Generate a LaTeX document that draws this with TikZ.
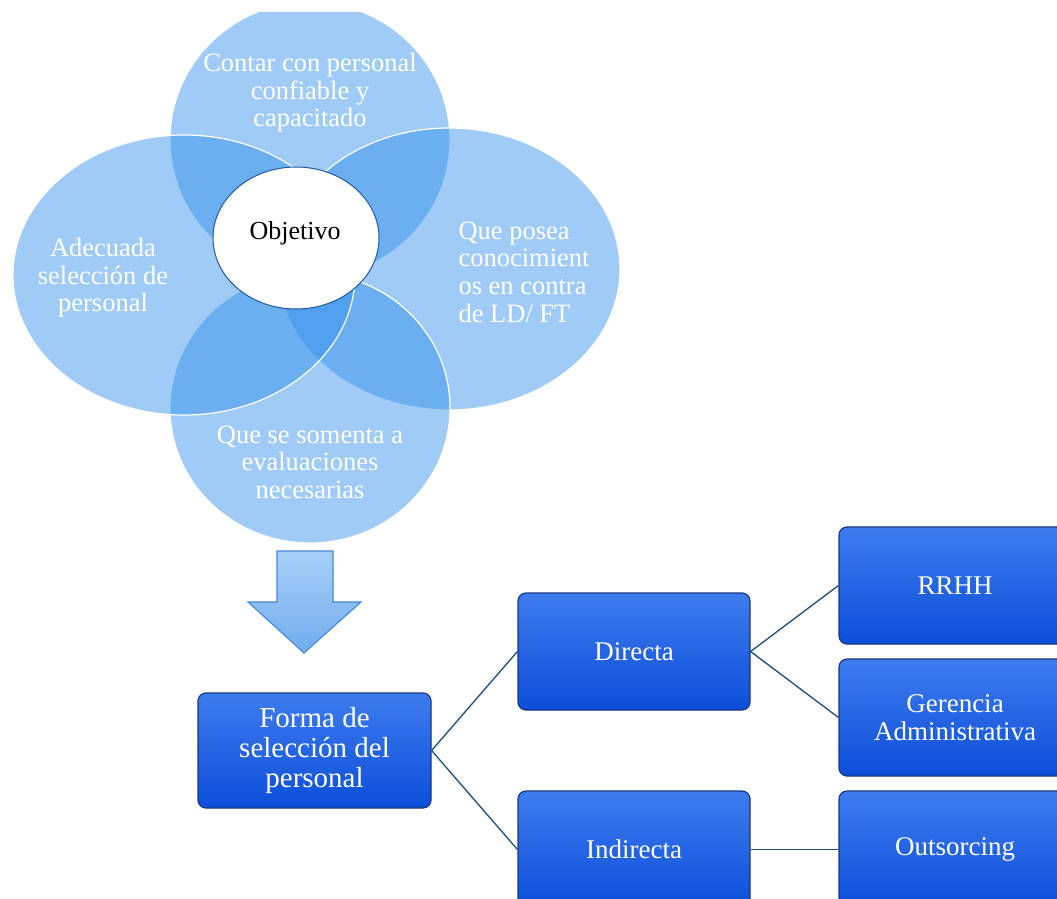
\documentclass[tikz,border=0pt]{standalone}
\usepackage{fontspec}
\setmainfont{Liberation Serif}
\begin{document}
\definecolor{venn}{RGB}{46,142,235}
\definecolor{objrim}{RGB}{30,90,160}
\definecolor{arrowtop}{RGB}{168,208,248}
\definecolor{arrowbot}{RGB}{112,172,238}
\definecolor{arrowrim}{RGB}{66,136,218}
\definecolor{boxtop}{RGB}{62,124,238}
\definecolor{boxbot}{RGB}{12,78,218}
\definecolor{boxrim}{RGB}{24,54,128}
\definecolor{link}{RGB}{31,78,121}
\begin{tikzpicture}[x=1pt,y=-1pt,
  petal/.style={fill=venn,fill opacity=0.46,draw=white,line width=1.2pt},
  petaltext/.style={text=white,align=center,font=\fontsize{26.5}{27.6}\selectfont},
  stepbox/.style={rounded corners=8pt,draw=boxrim,line width=1.2pt,
    top color=boxtop,bottom color=boxbot,text=white,align=center,
    minimum width=232pt,minimum height=117pt,inner sep=0pt,
    font=\fontsize{27}{28}\selectfont},
  link/.style={draw=link,line width=1.3pt}]
\useasboundingbox (0,0) rectangle (1057,899);
\begin{scope}
\clip (0,13) rectangle (1057,899);
% four overlapping petals of the Venn
\path[petal] (310,140) ellipse [x radius=140, y radius=138];
\path[petal] (449,269) ellipse [x radius=171, y radius=141];
\path[petal] (310,408) ellipse [x radius=140, y radius=135];
\path[petal] (184,275) ellipse [x radius=171, y radius=140];
\end{scope}
\path[fill=white,draw=objrim,line width=1pt] (296,238) ellipse [x radius=83, y radius=71];
\node[font=\fontsize{26}{27.5}\selectfont] (obj) at (295,233) {Objetivo};
\node[petaltext] (top) at (310,93) {Contar con personal\\confiable y\\capacitado};
\node[petaltext] (left) at (103,278) {Adecuada\\selección de\\personal};
\node[petaltext,align=left,anchor=west] (right) at (455,272) {Que posea\\conocimient\\os en contra\\de LD/ FT};
\node[petaltext] (bottom) at (310,462) {Que se somenta a\\evaluaciones\\necesarias};
% block arrow
\draw[top color=arrowtop,bottom color=arrowbot,draw=arrowrim,line width=1.1pt,line join=miter]
  (277,551) -- (333,551) -- (333,602) -- (361,602) -- (304,653) -- (248,602) -- (277,602) -- cycle;
\begin{scope}
\clip (0,0) rectangle (1057,899);
\node[stepbox,minimum width=233pt,minimum height=115pt,font=\fontsize{29}{30}\selectfont] (forma) at (314.5,750.5) {Forma de\\selección del\\personal};
\node[stepbox] (directa) at (634,651.5) {Directa};
\node[stepbox] (indirecta) at (634,849.5) {Indirecta};
\node[stepbox] (rrhh) at (955,585.5) {RRHH};
\node[stepbox] (gerencia) at (955,717.5) {Gerencia\\Administrativa};
\node[stepbox] (outs) at (955,849.5) {Outsorcing};
\path[link] (forma.east) -- (directa.west);
\path[link] (forma.east) -- (indirecta.west);
\path[link] (directa.east) -- (rrhh.west);
\path[link] (directa.east) -- (gerencia.west);
\path[link] (indirecta.east) -- (outs.west);
\end{scope}
\end{tikzpicture}
\end{document}
